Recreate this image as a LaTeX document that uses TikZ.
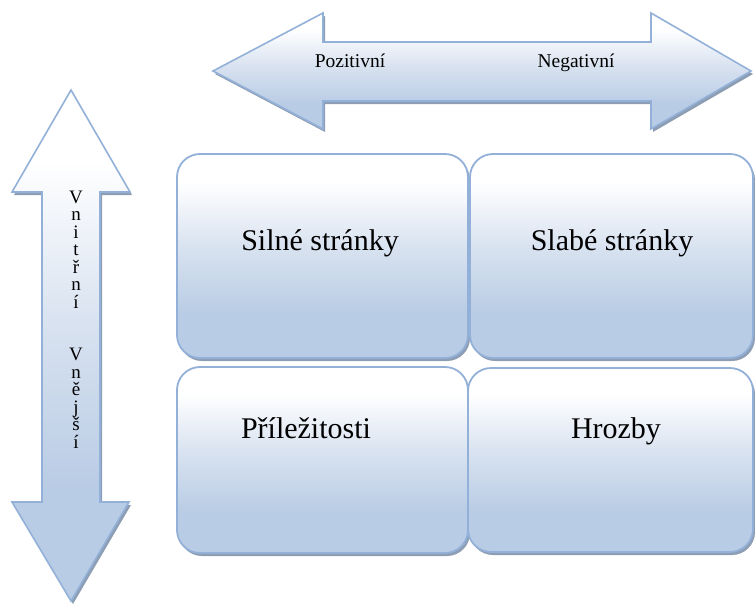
\documentclass[tikz,border=0pt]{standalone}
\usepackage{fontspec}
\setmainfont{Liberation Serif}
\usetikzlibrary{shadows}

\definecolor{edgeblue}{HTML}{93B1D8}
\definecolor{fillblue}{HTML}{B9CCE5}
\definecolor{fillmid}{HTML}{D8E2F0}
\definecolor{shadowblue}{HTML}{8D9DB3}

% white at the top, pale blue towards the bottom
\pgfdeclareverticalshading{softblue}{100bp}{%
  color(0bp)=(fillblue); color(25bp)=(fillblue); color(36bp)=(fillblue);
  color(52bp)=(fillmid); color(68bp)=(white); color(100bp)=(white)}

\begin{document}
\begin{tikzpicture}[x=1pt,y=-1pt,
  castshadow/.style={drop shadow={shadow xshift=2pt,shadow yshift=-3pt,
      fill=shadowblue,opacity=1}},
  arrowbody/.style={shading=softblue,draw=edgeblue,line width=1.6pt,
      line join=miter,castshadow},
  panel/.style={shape=rectangle,shading=softblue,draw=edgeblue,
      line width=1.8pt,rounded corners=23pt,inner sep=0pt,castshadow},
  paneltext/.style={font=\fontsize{30}{36}\selectfont,anchor=base,inner sep=0pt},
  toplabel/.style={font=\fontsize{19.5}{23}\selectfont,anchor=base,inner sep=0pt},
  sidelabel/.style={font=\fontsize{19}{22}\selectfont,anchor=base,inner sep=0pt}]

\useasboundingbox (0,0) rectangle (755,605);

% horizontal double arrow
\draw[arrowbody] (213,71) -- (323,13) -- (323,42) -- (651,42) -- (651,13)
  -- (751,71) -- (651,129) -- (651,101) -- (323,101) -- (323,129) -- cycle;
\node[toplabel] (pos) at (350,67) {Pozitivní};
\node[toplabel] (neg) at (576,67) {Negativní};

% vertical double arrow
\draw[arrowbody] (71,90) -- (130,192) -- (100,192) -- (100,502) -- (129,502)
  -- (71,601) -- (12,502) -- (42,502) -- (42,192) -- (12,192) -- cycle;
\foreach \ch/\k in {V/0,n/1,i/2,t/3,ř/4,n/5,í/6,V/9,n/10,ě/11,j/12,š/13,í/14}
  \node[sidelabel] (side\k) at (76,203+17.5*\k) {\ch};

% four quadrants
\node[panel,minimum width=291pt,minimum height=204pt] (strong) at (322.5,256) {};
\node[panel,minimum width=283pt,minimum height=204pt] (weak) at (611.5,256) {};
\node[panel,minimum width=291pt,minimum height=186pt] (chance) at (322.5,460) {};
\node[panel,minimum width=285pt,minimum height=184pt] (threat) at (610.5,460) {};

\node[paneltext] (strongtext) at (320,250) {Silné stránky};
\node[paneltext] (weaktext) at (612,250) {Slabé stránky};
\node[paneltext] (chancetext) at (306,438) {Příležitosti};
\node[paneltext] (threattext) at (616,438) {Hrozby};
\end{tikzpicture}
\end{document}
